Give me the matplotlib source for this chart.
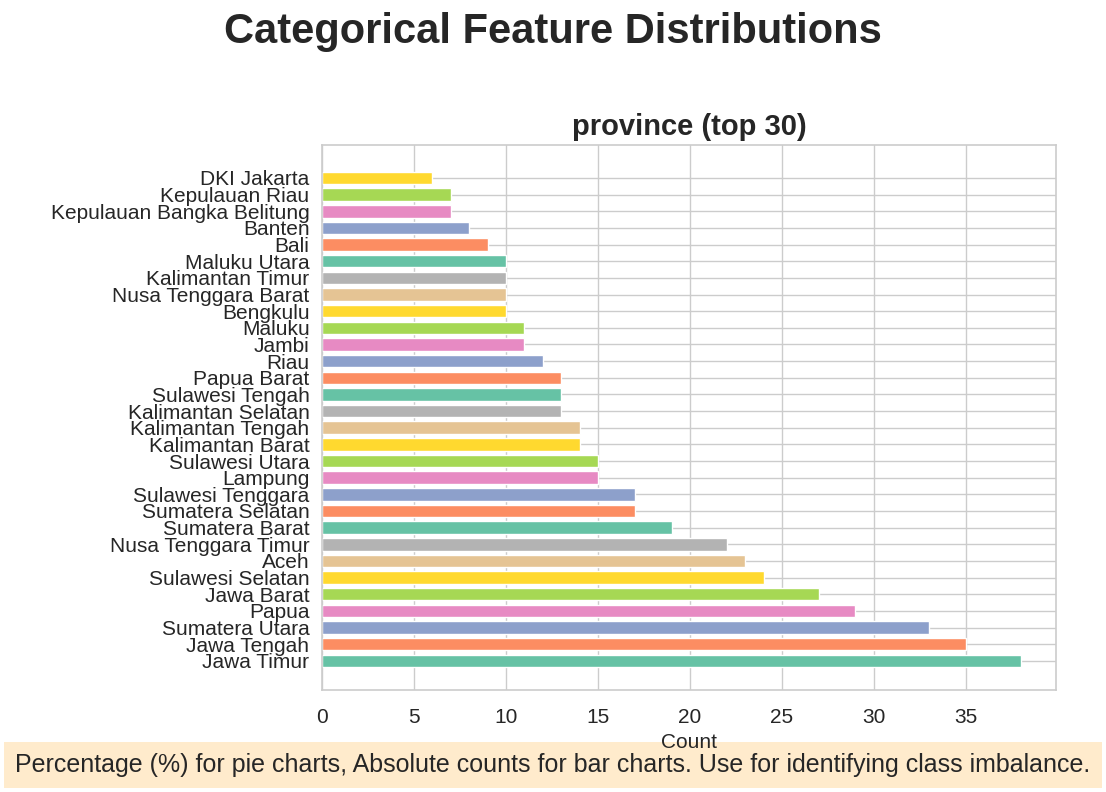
import numpy as np
import matplotlib
matplotlib.use("Agg")
import matplotlib.pyplot as plt
import seaborn as sns

sns.set_theme(style="whitegrid")
plt.rcParams['font.family'] = ['Liberation Sans', 'DejaVu Sans']

provinces = ["Jawa Timur", "Jawa Tengah", "Sumatera Utara", "Papua", "Jawa Barat",
             "Sulawesi Selatan", "Aceh", "Nusa Tenggara Timur", "Sumatera Barat",
             "Sumatera Selatan", "Sulawesi Tenggara", "Lampung", "Sulawesi Utara",
             "Kalimantan Barat", "Kalimantan Tengah", "Kalimantan Selatan",
             "Sulawesi Tengah", "Papua Barat", "Riau", "Jambi", "Maluku", "Bengkulu",
             "Nusa Tenggara Barat", "Kalimantan Timur", "Maluku Utara", "Bali",
             "Banten", "Kepulauan Bangka Belitung", "Kepulauan Riau", "DKI Jakarta"]
counts = [38, 35, 33, 29, 27, 24, 23, 22, 19, 17, 17, 15, 15, 14, 14, 13, 13, 13,
          12, 11, 11, 10, 10, 10, 10, 9, 8, 7, 7, 6]

palette = sns.color_palette("Set2", 8)
colors = [palette[i % 8] for i in range(len(counts))]

fig = plt.figure(figsize=(11.06, 7.92), dpi=100)
ax = fig.add_axes([322/1106, 1-690/792, (1056-322)/1106, (690-145)/792])

y = np.arange(len(counts))
ax.barh(y, counts, height=0.75, color=colors, edgecolor="white", linewidth=1)
ax.set_yticks(y)
ax.set_yticklabels(provinces, fontsize=15)
ax.set_ylim(-1.75, 30.98)
ax.set_xlim(0, 39.9)
ax.set_xticks(np.arange(0, 40, 5))
ax.tick_params(axis="x", labelsize=15, pad=7)
ax.tick_params(axis="y", pad=3)
ax.set_xlabel("Count", fontsize=15, labelpad=4)
ax.set_title("province (top 30)", fontsize=21, fontweight="bold", pad=7)
for s in ax.spines.values():
    s.set_color("#cccccc")
    s.set_linewidth(1.2)

fig.suptitle("Categorical Feature Distributions", fontsize=30, fontweight="bold",
             y=1-32/792, va="center")
fig.text(0.5, 1-765/792, "Percentage (%) for pie charts, Absolute counts for bar charts. "
         "Use for identifying class imbalance.", ha="center", va="center", fontsize=18,
         zorder=-1,
         bbox=dict(boxstyle="square,pad=0.45", facecolor="#ffebcc", edgecolor="none"))

fig.savefig("out.png", dpi=100)
